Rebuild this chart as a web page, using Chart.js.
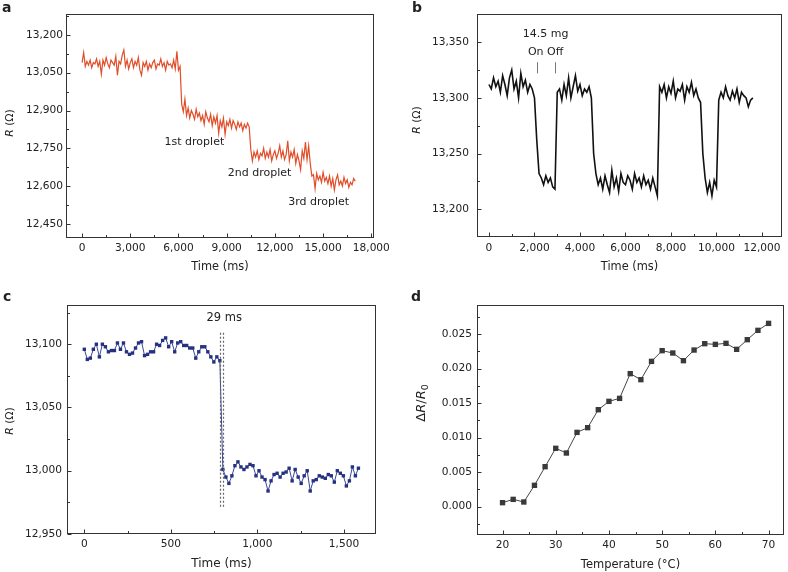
<!DOCTYPE html>
<html lang="en">
<head>
<meta charset="utf-8">
<title>Resistance response</title>
<script src="https://cdn.jsdelivr.net/npm/chart.js@4.4.1/dist/chart.umd.min.js"></script>
<style>
  body { margin: 0; background: #fff; }
  #figure { position: relative; width: 788px; height: 572px; }
  #figure canvas { position: absolute; }
</style>
</head>
<body>
<div id="figure">
  <canvas id="chart-a" width="394" height="290" style="left:0;top:0"></canvas>
  <canvas id="chart-b" width="394" height="290" style="left:394px;top:0"></canvas>
  <canvas id="chart-c" width="394" height="282" style="left:0;top:290px"></canvas>
  <canvas id="chart-d" width="394" height="282" style="left:394px;top:290px"></canvas>
</div>
<script>
/* ---- data ---- */

// a: resistance during three droplets, one sample every 100 ms
const SAMPLE_A_MS = 100;
const resistanceA = [
  13090, 13130, 13075, 13095, 13080, 13100, 13070, 13090, 13085, 13105,
  13075, 13095, 13045, 13100, 13080, 13110, 13085, 13070, 13100, 13090,
  13080, 13115, 13040, 13095, 13085, 13120, 13140, 13075, 13100, 13065,
  13090, 13105, 13070, 13095, 13080, 13110, 13060, 13040, 13090, 13075,
  13095, 13060, 13085, 13070, 13090, 13100, 13065, 13085, 13080, 13105,
  13075, 13090, 13060, 13095, 13080, 13085, 13070, 13100, 13065, 13135,
  13060, 13075, 12925, 12895, 12945, 12880, 12910, 12870, 12900, 12885,
  12865, 12905, 12875, 12890, 12860, 12880, 12845, 12895, 12870, 12855,
  12885, 12840, 12875, 12850, 12880, 12810, 12860, 12835, 12870, 12805,
  12855, 12840, 12865, 12830, 12860, 12845, 12825, 12855, 12835, 12850,
  12820, 12845, 12830, 12850, 12835, 12745, 12700, 12735, 12715, 12740,
  12705, 12730, 12720, 12750, 12710, 12735, 12715, 12745, 12700, 12725,
  12740, 12710, 12730, 12760, 12715, 12740, 12705, 12725, 12780, 12700,
  12735, 12715, 12745, 12690, 12725, 12700, 12665, 12740, 12710, 12775,
  12705, 12760, 12690, 12640, 12645, 12590, 12650, 12625, 12640, 12615,
  12655, 12620, 12635, 12610, 12640, 12600, 12630, 12585, 12625, 12645,
  12605, 12620, 12600, 12635, 12610, 12625, 12595, 12615, 12605, 12630,
  12620
];
const ticksAX = [0, 3000, 6000, 9000, 12000, 15000, 18000];
const ticksAY = [12450, 12600, 12750, 12900, 13050, 13200];
const labelsA = [
  { text: '1st droplet', x: 6990, y: 12776 },
  { text: '2nd droplet', x: 11050, y: 12651 },
  { text: '3rd droplet', x: 14720, y: 12535 }
];

// b: 14.5 mg load switched on and off, one sample every 100 ms
const SAMPLE_B_MS = 100;
const resistanceB = [
  13312, 13308, 13318, 13310, 13315, 13305, 13320, 13312, 13302, 13318,
  13325, 13308, 13315, 13300, 13322, 13310, 13316, 13305, 13312, 13308,
  13300, 13262, 13232, 13228, 13222, 13230, 13224, 13228, 13220, 13218,
  13305, 13308, 13298, 13312, 13302, 13318, 13300, 13310, 13320, 13306,
  13312, 13302, 13308, 13305, 13310, 13300, 13250, 13232, 13222, 13228,
  13218, 13230, 13222, 13215, 13235, 13220, 13228, 13216, 13232, 13224,
  13222, 13230, 13226, 13218, 13232, 13224, 13228, 13220, 13230, 13222,
  13226, 13218, 13228, 13220, 13212, 13310, 13305, 13312, 13300, 13310,
  13304, 13315, 13300, 13308, 13306, 13312, 13298, 13310, 13305, 13314,
  13302, 13308, 13300, 13296, 13250, 13228, 13215, 13224, 13212, 13226,
  13220, 13298, 13305, 13300, 13310, 13302, 13298, 13306, 13300, 13308,
  13296, 13305, 13302, 13300, 13292, 13298, 13300
];
const ticksBX = [0, 2000, 4000, 6000, 8000, 10000, 12000];
const ticksBY = [13200, 13250, 13300, 13350];
const switchB = [2110, 2920]; // On, Off

// c: response time, one sample every 17.4 ms
const SAMPLE_C_MS = 17.4;
const resistanceC = [
  13096, 13088, 13089, 13096, 13100, 13090, 13100, 13098, 13094, 13095,
  13095, 13101, 13096, 13101, 13094, 13092, 13093, 13097, 13101, 13102,
  13091, 13092, 13094, 13094, 13100, 13099, 13103, 13105, 13098, 13102,
  13094, 13101, 13102, 13099, 13099, 13097, 13097, 13089, 13094, 13098,
  13098, 13094, 13090, 13086, 13090, 13087,
  13001, 12995, 12990, 12996, 13004, 13007, 13003, 13001, 13003, 13005,
  13004, 12996, 13000, 12995, 12993, 12984, 12992, 12997, 12998, 12995,
  12998, 12999, 13002, 12992, 13001, 12995, 12990, 12996, 13000, 12984,
  12992, 12993, 12996, 12995, 12994, 12997, 12996, 12991, 13000, 12998,
  12996, 12988, 12992, 13003, 12996, 13002
];
const ticksCX = [0, 500, 1000, 1500];
const ticksCY = [12950, 13000, 13050, 13100];
const stepEdgesC = [785, 802];

// d: relative change vs temperature
const temperatureD = [20, 22, 24, 26, 28, 30, 32, 34, 36, 38, 40, 42, 44, 46, 48, 50, 52, 54, 56, 58, 60, 62, 64, 66, 68, 70];
const deltaRD = [
  0.00058, 0.00106, 0.00068, 0.00309, 0.00579, 0.00845, 0.00777, 0.01076, 0.01144, 0.01404,
  0.01525, 0.01568, 0.01926, 0.01839, 0.02104, 0.02259, 0.02225, 0.02114, 0.02268, 0.02360,
  0.02350, 0.02365, 0.02278, 0.02418, 0.02553, 0.02654
];
const ticksDX = [20, 30, 40, 50, 60, 70];
const ticksDY = [0, 0.005, 0.01, 0.015, 0.02, 0.025];

/* ---- drawing ---- */

const FONT = "'DejaVu Sans', sans-serif";
const INK = '#222';
const thousands = v => v.toLocaleString('en-US');

function minorValues(major, min, max) {
  const step = major[1] - major[0];
  const out = [];
  for (let i = -1; i < major.length; i++) {
    const v = i < 0 ? major[0] - step / 2 : major[i] + step / 2;
    if (v > min && v < max) out.push(v);
  }
  return out;
}

// frame, inward ticks, panel letter, y title and in-plot notes
const decor = {
  id: 'decor',
  afterDraw(chart, args, o) {
    const { ctx, chartArea: a } = chart;
    const xs = chart.scales.x, ys = chart.scales.y;
    const L = Math.round(a.left) + 0.5, R = Math.round(a.right) - 0.5;
    const T = Math.round(a.top) + 0.5, B = Math.round(a.bottom) - 0.5;
    ctx.save();
    ctx.strokeStyle = '#333';
    ctx.lineWidth = 1;
    ctx.strokeRect(L, T, R - L, B - T);

    ctx.beginPath();
    const tickX = (v, len) => { const p = Math.round(xs.getPixelForValue(v)) + 0.5; ctx.moveTo(p, B); ctx.lineTo(p, B - len); };
    const tickY = (v, len) => { const p = Math.round(ys.getPixelForValue(v)) + 0.5; ctx.moveTo(L, p); ctx.lineTo(L + len, p); };
    const mx = xs.ticks.map(t => t.value), my = ys.ticks.map(t => t.value);
    mx.forEach(v => tickX(v, 4));
    my.forEach(v => tickY(v, 4));
    minorValues(mx, xs.min, xs.max).forEach(v => tickX(v, 2.5));
    minorValues(my, ys.min, ys.max).forEach(v => tickY(v, 2.5));
    ctx.stroke();

    (o.marks || []).forEach(m => {
      ctx.beginPath();
      ctx.setLineDash(m.dash || []);
      ctx.strokeStyle = m.color;
      ctx.lineWidth = m.width;
      const px = Math.round(xs.getPixelForValue(m.x)) + 0.5;
      ctx.moveTo(px, ys.getPixelForValue(m.y0));
      ctx.lineTo(px, ys.getPixelForValue(m.y1));
      ctx.stroke();
    });
    ctx.setLineDash([]);

    ctx.fillStyle = INK;
    ctx.textAlign = 'center';
    ctx.textBaseline = 'middle';
    (o.notes || []).forEach(n => {
      ctx.font = `${n.size}px ${FONT}`;
      ctx.fillText(n.text, xs.getPixelForValue(n.x), ys.getPixelForValue(n.y));
    });

    if (o.letter) {
      ctx.font = `bold ${o.letter.size}px ${FONT}`;
      ctx.textAlign = 'left';
      ctx.textBaseline = 'alphabetic';
      ctx.fillText(o.letter.text, o.letter.x, o.letter.y);
    }

    if (o.yTitle) {
      const t = o.yTitle;
      const fontFor = p => `${p.italic ? 'italic ' : ''}${p.sub ? t.size * 0.72 : t.size}px ${FONT}`;
      ctx.translate(t.x, t.y);
      ctx.rotate(-Math.PI / 2);
      let total = 0;
      t.parts.forEach(p => { ctx.font = fontFor(p); total += ctx.measureText(p.text).width; });
      let cx = -total / 2;
      ctx.textAlign = 'left';
      ctx.textBaseline = 'middle';
      t.parts.forEach(p => {
        ctx.font = fontFor(p);
        ctx.fillText(p.text, cx, p.sub ? t.size * 0.3 : 0);
        cx += ctx.measureText(p.text).width;
      });
    }
    ctx.restore();
  }
};

function axis(s, dir) {
  return {
    type: 'linear',
    min: s.min,
    max: s.max,
    afterBuildTicks: sc => { sc.ticks = s.ticks.map(v => ({ value: v })); },
    afterFit: sc => { if (dir === 'x') sc.height = s.size; else sc.width = s.size; },
    grid: { display: false, drawTicks: false },
    border: { display: false },
    ticks: {
      padding: s.pad, color: INK, autoSkip: false, maxRotation: 0,
      font: { family: FONT, size: s.font }, callback: s.format
    },
    title: s.title
      ? { display: true, text: s.title, color: INK, font: { family: FONT, size: s.titleSize }, padding: { top: 0, bottom: s.titlePad } }
      : { display: false }
  };
}

function buildPanel(id, p) {
  return new Chart(document.getElementById(id), {
    type: 'line',
    data: { datasets: [p.dataset] },
    options: {
      responsive: false,
      animation: false,
      events: [],
      layout: { padding: p.padding },
      plugins: { legend: { display: false }, tooltip: { enabled: false }, decor: p.decor },
      scales: { x: axis(p.x, 'x'), y: axis(p.y, 'y') }
    },
    plugins: [decor]
  });
}

const R_OHM = [{ text: 'R', italic: true }, { text: ' (\u03A9)' }];

buildPanel('chart-a', {
  padding: { top: 14, right: 18, left: 0, bottom: 0 },
  dataset: {
    data: resistanceA.map((v, i) => ({ x: i * SAMPLE_A_MS, y: v })),
    borderColor: '#e14d28', borderWidth: 1.2, pointRadius: 0, tension: 0
  },
  x: { min: -1000, max: 18160, ticks: ticksAX, size: 52, pad: 4, font: 10.6, format: thousands, title: 'Time (ms)', titleSize: 11.4, titlePad: 16.4 },
  y: { min: 12394, max: 13283, ticks: ticksAY, size: 66, pad: 3, font: 10.6, format: thousands },
  decor: {
    letter: { text: 'a', x: 2, y: 12, size: 14 },
    yTitle: { x: 10, y: 123, size: 10.8, parts: R_OHM },
    notes: labelsA.map(l => ({ ...l, size: 11 }))
  }
});

buildPanel('chart-b', {
  padding: { top: 9, right: 6, left: 0, bottom: 0 },
  dataset: {
    data: resistanceB.map((v, i) => ({ x: i * SAMPLE_B_MS, y: v })),
    borderColor: '#111', borderWidth: 1.6, pointRadius: 0, tension: 0
  },
  x: { min: -527, max: 12880, ticks: ticksBX, size: 53, pad: 5, font: 10.6, format: thousands, title: 'Time (ms)', titleSize: 11.4, titlePad: 16.4 },
  y: { min: 13175, max: 13375, ticks: ticksBY, size: 83, pad: 8, font: 10.6, format: thousands },
  decor: {
    letter: { text: 'b', x: 18, y: 12, size: 14 },
    yTitle: { x: 23, y: 120, size: 10.8, parts: R_OHM },
    marks: switchB.map(x => ({ x, y0: 13322, y1: 13332, color: '#777', width: 1 })),
    notes: [
      { text: '14.5 mg', x: 2490, y: 13357, size: 11 },
      { text: 'On Off', x: 2490, y: 13341, size: 11 }
    ]
  }
});

buildPanel('chart-c', {
  padding: { top: 15, right: 18, left: 0, bottom: 0 },
  dataset: {
    data: resistanceC.map((v, i) => ({ x: i * SAMPLE_C_MS, y: v })),
    borderColor: '#3a4699', borderWidth: 1, tension: 0,
    pointStyle: 'rect', pointRadius: 2.4, pointBorderWidth: 0, pointBackgroundColor: '#26327f'
  },
  x: { min: -100, max: 1685, ticks: ticksCX, size: 38, pad: 4, font: 10.6, format: thousands, title: 'Time (ms)', titleSize: 12, titlePad: 0.8 },
  y: { min: 12950, max: 13131, ticks: ticksCY, size: 67, pad: 5, font: 10.6, format: thousands },
  decor: {
    letter: { text: 'c', x: 3, y: 11, size: 14 },
    yTitle: { x: 10, y: 131, size: 10.8, parts: R_OHM },
    marks: stepEdgesC.map(x => ({ x, y0: 13109, y1: 12970, color: '#666', width: 1.2, dash: [2, 2] })),
    notes: [{ text: '29 ms', x: 808, y: 13121, size: 11.5 }]
  }
});

buildPanel('chart-d', {
  padding: { top: 15, right: 4, left: 0, bottom: 0 },
  dataset: {
    data: deltaRD.map((v, i) => ({ x: temperatureD[i], y: v })),
    borderColor: '#444', borderWidth: 1, tension: 0,
    pointStyle: 'rect', pointRadius: 3.8, pointBorderWidth: 0, pointBackgroundColor: '#3a3a3a'
  },
  x: { min: 15.2, max: 72.9, ticks: ticksDX, size: 37, pad: 4, font: 10.6, format: v => String(v), title: 'Temperature (\u00B0C)', titleSize: 11.5, titlePad: 0.4 },
  y: { min: -0.0041, max: 0.0292, ticks: ticksDY, size: 83, pad: 5, font: 10.6, format: v => v.toFixed(3) },
  decor: {
    letter: { text: 'd', x: 17, y: 11, size: 14 },
    yTitle: {
      x: 28, y: 113, size: 13,
      parts: [{ text: '\u0394' }, { text: 'R', italic: true }, { text: '/' }, { text: 'R', italic: true }, { text: '0', sub: true }]
    }
  }
});
</script>
</body>
</html>
